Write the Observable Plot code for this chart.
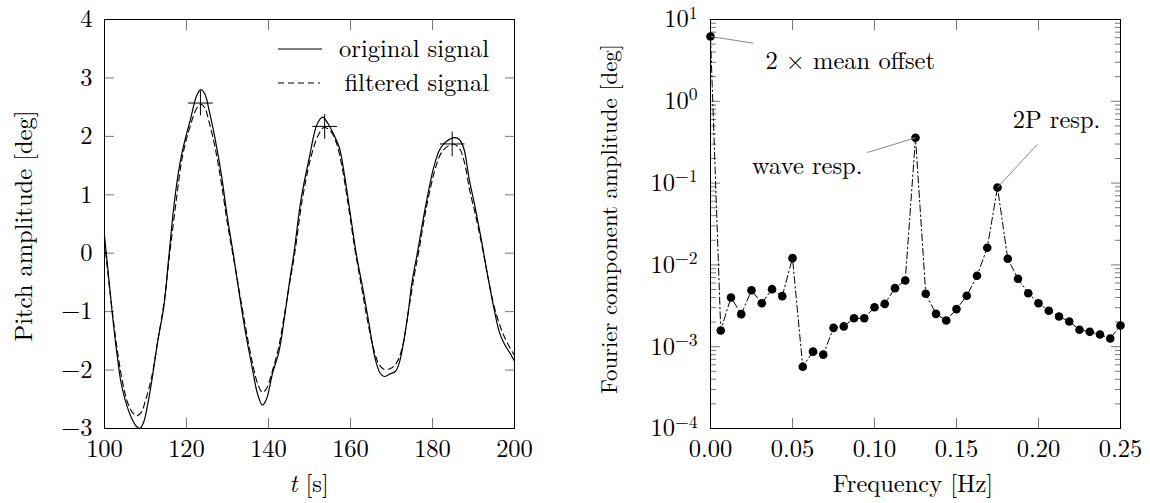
<!DOCTYPE html>
<html><head><meta charset="utf-8">
<script src="https://cdn.jsdelivr.net/npm/d3@7"></script>
<script src="https://cdn.jsdelivr.net/npm/@observablehq/plot@0.6"></script>
<style>
body{margin:0;background:#fff;}
#wrap{position:relative;width:1150px;height:503px;overflow:hidden;background:#fff;font-family:'Latin Modern Roman','Liberation Serif',serif;}
#wrap svg{position:absolute;top:0;}
</style></head><body><div id="wrap"></div>
<script>
// ---------- Left panel: pitch time series ----------
const tOrig = [100,101,102,103,104,105,106,107,108,108.6,109.5,110.5,111.5,113,114.5,115.7,117,118.3,119.5,121,122.5,123.5,124.5,125.5,127,128.5,130,131.5,133,134.5,136,137.3,138.5,139.5,141,142.5,144,145,146.2,148,150,151.8,153.2,154.5,156,157.3,158.5,160,161.5,163,164.5,166,167.2,168.2,169.5,171,172,173.8,175,176.3,178.3,180.3,181.8,183.5,185.5,186.5,187.6,189,190.5,192,193.5,195,196.3,197.5,199,200];
const vOrig = [0.3,-0.4,-1.1,-1.7,-2.2,-2.5,-2.72,-2.88,-2.98,-3.0,-2.9,-2.6,-2.2,-1.5,-0.9,-0.05,0.85,1.5,1.9,2.3,2.7,2.8,2.72,2.45,1.95,1.35,0.6,-0.05,-0.75,-1.4,-1.95,-2.4,-2.6,-2.5,-2.05,-1.7,-1.05,-0.55,0.0,0.95,1.65,2.2,2.33,2.22,2.02,1.8,1.35,0.65,-0.05,-0.6,-1.2,-1.8,-2.05,-2.11,-2.07,-2.02,-1.85,-1.15,-0.5,0.0,0.8,1.47,1.78,1.92,1.98,1.95,1.8,1.25,0.75,0.2,-0.4,-0.95,-1.35,-1.55,-1.72,-1.85];
const tFilt = [100,101,102,103,104,105,106,107,108,109,110,111.5,113,114.5,116,117.5,119,121,122.5,123.5,124.5,125.5,127,128.5,130,131.5,133,134.5,136,137.3,138.5,139.5,141,142.5,144,145.2,146.4,148.2,150.2,152,153.5,155,156.5,158,159.5,161,162.5,164,165.5,166.8,168,169.5,171,172.5,174,175.5,176.7,178.5,180.5,182,183.5,185,186.5,187.8,189,190.5,192,193.5,195,196.5,198,200];
const vFilt = [0.2,-0.45,-1.05,-1.6,-2.05,-2.4,-2.62,-2.74,-2.78,-2.72,-2.52,-2.12,-1.5,-0.85,0.05,0.9,1.65,2.2,2.48,2.55,2.48,2.25,1.8,1.2,0.5,-0.1,-0.7,-1.3,-1.85,-2.22,-2.38,-2.32,-2.0,-1.6,-1.0,-0.5,0.0,0.9,1.6,2.0,2.15,2.1,1.9,1.45,0.8,0.1,-0.5,-1.1,-1.6,-1.88,-1.98,-1.98,-1.9,-1.65,-1.05,-0.4,0.05,0.78,1.4,1.7,1.82,1.87,1.8,1.55,1.1,0.65,0.15,-0.4,-0.9,-1.25,-1.5,-1.75];
const tPeaks = [123.4,153.7,184.8];
const vPeaks = [2.57,2.17,1.87];
const xTicksL = [100,120,140,160,180,200];
const yTicksL = [-3,-2,-1,0,1,2,3,4];
const legendLabels = ["original signal","filtered signal"];

// ---------- Right panel: Fourier spectrum ----------
const freq = [0,0.00625,0.0125,0.01875,0.025,0.03125,0.0375,0.04375,0.05,0.05625,0.0625,0.06875,0.075,0.08125,0.0875,0.09375,0.1,0.10625,0.1125,0.11875,0.125,0.13125,0.1375,0.14375,0.15,0.15625,0.1625,0.16875,0.175,0.18125,0.1875,0.19375,0.2,0.20625,0.2125,0.21875,0.225,0.23125,0.2375,0.24375,0.25];
const amp = [6.2,1.58e-3,4.0e-3,2.5e-3,4.9e-3,3.4e-3,5.05e-3,4.15e-3,1.21e-2,5.7e-4,8.7e-4,8.0e-4,1.70e-3,1.77e-3,2.23e-3,2.23e-3,3.04e-3,3.34e-3,5.2e-3,6.44e-3,0.358,4.43e-3,2.52e-3,2.09e-3,2.88e-3,4.19e-3,7.36e-3,1.62e-2,0.0883,1.19e-2,6.76e-3,4.51e-3,3.40e-3,2.75e-3,2.34e-3,2.03e-3,1.61e-3,1.52e-3,1.41e-3,1.26e-3,1.82e-3];
const xTicksR = [0,0.05,0.1,0.15,0.2,0.25];
const xTickLabelsR = ["0.00","0.05","0.10","0.15","0.20","0.25"];
const yTicksR = [1e-4,1e-3,1e-2,1e-1,1,10];
const yTickLabelsR = ["10^−4","10^−3","10^−2","10^−1","10^0","10^1"];
const yMinorR = [2e-4,3e-4,4e-4,5e-4,6e-4,7e-4,8e-4,9e-4,2e-3,3e-3,4e-3,5e-3,6e-3,7e-3,8e-3,9e-3,2e-2,3e-2,4e-2,5e-2,6e-2,7e-2,8e-2,9e-2,0.2,0.3,0.4,0.5,0.6,0.7,0.8,0.9,2,3,4,5,6,7,8,9];
// annotations: label, index of annotated point, pin end (x,y), text anchor (x,y)
const annLabels = ["2 × mean offset","wave resp.","2P resp."];
const annIndex = [0,20,28];
const annPinX = [0.0262,0.0957,0.1992];
const annPinY = [5.13,0.2366,0.296];
const annTextX = [0.0335,0.0927,0.211];
const annTextY = [3.07,0.16,0.582];
const annTextAnchor = ["start","end","middle"];

const FONT = "'Latin Modern Roman', 'Liberation Serif', serif";
const FS = 24.5;
const orig = tOrig.map((t,i)=>({t, v:vOrig[i]}));
const filt = tFilt.map((t,i)=>({t, v:vFilt[i]}));
const peaks = tPeaks.map((t,i)=>({t, v:vPeaks[i]}));
const spec = freq.map((f,i)=>({f, a:amp[i]}));
const ann = annLabels.map((label,i)=>({label, x1:freq[annIndex[i]], y1:amp[annIndex[i]], x2:annPinX[i], y2:annPinY[i], tx:annTextX[i], ty:annTextY[i], anchor:annTextAnchor[i]}));

const fmtL = d => d < 0 ? "\u2212" + (-d) : String(d);
const xLabR = new Map(xTicksR.map((d,i)=>[d, xTickLabelsR[i]]));
const yLabR = new Map(yTicksR.map((d,i)=>[d, yTickLabelsR[i]]));
const tickStroke = "#777";
const blank = () => "";

const left = Plot.plot({
  width: 560, height: 503,
  marginLeft: 104, marginRight: 46, marginTop: 19, marginBottom: 75,
  style: {fontFamily: FONT, fontSize: FS + "px", color: "#000", background: "none", overflow: "visible"},
  x: {domain: [100, 200]},
  y: {domain: [-3, 4]},
  marks: [
    Plot.axisX(xTicksL, {anchor: "bottom", tickSize: -10, tickPadding: 21, tickFormat: fmtL, label: null, stroke: tickStroke, fontVariant: "normal"}),
    Plot.axisX(xTicksL, {anchor: "top", tickSize: -10, tickFormat: blank, label: null, stroke: tickStroke}),
    Plot.axisY(yTicksL, {anchor: "left", tickSize: -10, tickPadding: 22, tickFormat: fmtL, label: null, stroke: tickStroke, fontVariant: "normal"}),
    Plot.axisY(yTicksL, {anchor: "right", tickSize: -10, tickFormat: blank, label: null, stroke: tickStroke}),
    Plot.line(orig, {x: "t", y: "v", stroke: "#000", strokeWidth: 1.2, curve: "catmull-rom"}),
    Plot.line(filt, {x: "t", y: "v", stroke: "#000", strokeWidth: 1.1, strokeDasharray: "6,4", curve: "catmull-rom"}),
    Plot.dot(peaks, {x: "t", y: "v", symbol: "plus", r: 8, stroke: "#000", strokeWidth: 1}),
    Plot.frame({stroke: "#000", strokeWidth: 1})
  ]
});
left.style.left = "0px";

const right = Plot.plot({
  width: 590, height: 503,
  marginLeft: 150, marginRight: 30, marginTop: 19, marginBottom: 75,
  style: {fontFamily: FONT, fontSize: FS + "px", color: "#000", background: "none", overflow: "visible"},
  x: {domain: [0, 0.25]},
  y: {type: "log", domain: [1e-4, 10]},
  marks: [
    Plot.axisX(xTicksR, {anchor: "bottom", tickSize: -10, tickPadding: 21, tickFormat: d => xLabR.get(d), label: null, stroke: tickStroke, fontVariant: "normal"}),
    Plot.axisX(xTicksR, {anchor: "top", tickSize: -10, tickFormat: blank, label: null, stroke: tickStroke}),
    Plot.axisY(yTicksR, {anchor: "left", tickSize: -10, tickPadding: 23, tickFormat: d => yLabR.get(d), label: null, stroke: tickStroke, fontVariant: "normal"}),
    Plot.axisY(yMinorR, {anchor: "left", tickSize: -6, tickFormat: blank, label: null, stroke: tickStroke}),
    Plot.axisY(yTicksR, {anchor: "right", tickSize: -10, tickFormat: blank, label: null, stroke: tickStroke}),
    Plot.axisY(yMinorR, {anchor: "right", tickSize: -6, tickFormat: blank, label: null, stroke: tickStroke}),
    Plot.line(spec, {x: "f", y: "a", stroke: "#000", strokeWidth: 1, strokeDasharray: "7,3,1.5,3"}),
    Plot.dot(spec, {x: "f", y: "a", r: 4.3, fill: "#000", stroke: "none"}),
    Plot.link(ann, {x1: "x1", y1: "y1", x2: "x2", y2: "y2", stroke: "#888", strokeWidth: 1}),
    Plot.text(ann.filter(d => d.anchor === "start"), {x: "tx", y: "ty", text: "label", textAnchor: "start", fontSize: FS, fontFamily: FONT, fill: "#000"}),
    Plot.text(ann.filter(d => d.anchor === "end"), {x: "tx", y: "ty", text: "label", textAnchor: "end", fontSize: FS, fontFamily: FONT, fill: "#000"}),
    Plot.text(ann.filter(d => d.anchor === "middle"), {x: "tx", y: "ty", text: "label", textAnchor: "middle", fontSize: FS, fontFamily: FONT, fill: "#000"}),
    Plot.frame({stroke: "#000", strokeWidth: 1})
  ]
});
right.style.left = "560px";

// superscript exponents on the log axis labels
const NS = "http://www.w3.org/2000/svg";
right.querySelectorAll('[aria-label="y-axis tick label"] text').forEach(t => {
  const m = t.textContent.match(/^10\^(.*)$/);
  if (m) {
    t.textContent = "10";
    const ts = document.createElementNS(NS, "tspan");
    ts.setAttribute("dy", "-0.5em");
    ts.setAttribute("font-size", "0.72em");
    ts.textContent = m[1];
    t.appendChild(ts);
  }
});

const wrap = document.getElementById("wrap");
wrap.appendChild(left);
wrap.appendChild(right);

// overlay: axis titles and legend
const ov = document.createElementNS(NS, "svg");
ov.setAttribute("width", 1150); ov.setAttribute("height", 503);
ov.style.left = "0px";
ov.style.fontFamily = FONT;
ov.style.fontSize = FS + "px";
ov.innerHTML = `
  <text x="309" y="492" text-anchor="middle"><tspan font-style="italic">t</tspan> [s]</text>
  <text x="913" y="492" text-anchor="middle">Frequency [Hz]</text>
  <text transform="translate(32,226) rotate(-90)" text-anchor="middle">Pitch amplitude [deg]</text>
  <text transform="translate(617,219) rotate(-90)" text-anchor="middle" font-size="22.8">Fourier component amplitude [deg]</text>
  <line x1="278" x2="322" y1="49" y2="49" stroke="#000" stroke-width="1.2"/>
  <line x1="278" x2="320" y1="83" y2="83" stroke="#000" stroke-width="1.1" stroke-dasharray="6,4"/>
  <text x="489" y="57" text-anchor="end">${legendLabels[0]}</text>
  <text x="489" y="91" text-anchor="end">${legendLabels[1]}</text>
`;
wrap.appendChild(ov);
</script></body></html>
